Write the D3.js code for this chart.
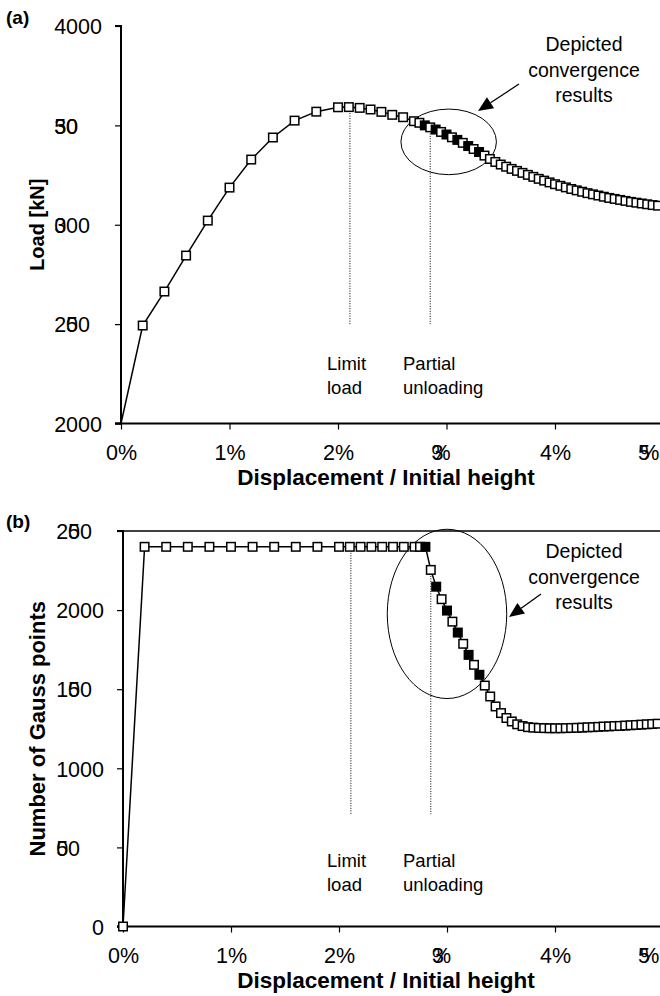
<!DOCTYPE html>
<html>
<head>
<meta charset="utf-8">
<script src="https://cdn.jsdelivr.net/npm/d3@7"></script>
<style>
  html, body { margin: 0; padding: 0; background: #fff; }
  svg { display: block; font-family: "Liberation Sans", Arial, sans-serif; }
</style>
</head>
<body>
<svg id="chart" width="660" height="996"></svg>
<script>
// ---------------- DATA ----------------
const displacement = [0, 0.2, 0.4, 0.6, 0.8, 1.0, 1.2, 1.4, 1.6, 1.8, 2.0,
  2.1, 2.2, 2.3, 2.4, 2.5, 2.6, 2.7,
  2.75, 2.8, 2.85, 2.9, 2.95, 3.0, 3.05, 3.1, 3.15, 3.2, 3.25, 3.3, 3.35, 3.4,
  3.45, 3.5, 3.55, 3.6, 3.65, 3.7, 3.75, 3.8, 3.85, 3.9, 3.95, 4.0,
  4.05, 4.1, 4.15, 4.2, 4.25, 4.3, 4.35, 4.4, 4.45, 4.5,
  4.55, 4.6, 4.65, 4.7, 4.75, 4.8, 4.85, 4.9, 4.95];

const load = [2000, 2493, 2664, 2845, 3021, 3187, 3328, 3439, 3524, 3569, 3591,
  3592, 3588, 3580, 3568, 3553, 3541, 3521,
  3513, 3500, 3490, 3479, 3467, 3454, 3440, 3427, 3412, 3396, 3381, 3366, 3348, 3331,
  3316, 3303, 3292, 3281, 3271, 3261, 3251, 3241, 3231, 3222, 3213, 3204,
  3196, 3188, 3180, 3173, 3166, 3159, 3153, 3147, 3141, 3135,
  3130, 3125, 3120, 3115, 3111, 3107, 3103, 3099, 3096];

const gaussPoints = [0, 2400, 2400, 2400, 2400, 2400, 2400, 2400, 2400, 2400, 2400,
  2400, 2400, 2400, 2400, 2400, 2400, 2400,
  2400, 2400, 2254, 2148, 2069, 1997, 1927, 1858, 1787, 1717, 1654, 1591, 1523, 1454,
  1391, 1349, 1318, 1296, 1278, 1267, 1260, 1257, 1255, 1254, 1253, 1253,
  1253, 1254, 1255, 1256, 1257, 1259, 1260, 1262, 1264, 1265,
  1267, 1268, 1270, 1272, 1274, 1276, 1278, 1280, 1282];

// convergence steps depicted (filled markers)
const depictedSteps = [2.8, 2.9, 3.0, 3.1, 3.2, 3.3];

const xTicks = [0, 1, 2, 3, 4, 5];
const xTickLabels = ["0%", "1%", "2%", "3%", "4%", "5%"];
const loadTicks = [2000, 2500, 3000, 3500, 4000];
const gaussTicks = [0, 500, 1000, 1500, 2000, 2500];

const limitLoadDisp = 2.11;
const partialUnloadDisp = 2.85;
const annotationBottomA = 2500;   // load value where dotted lines end
const annotationBottomB = 710;    // gauss value where dotted lines end

// ---------------- DRAW ----------------
const svg = d3.select("#chart");
svg.append("rect").attr("width", 660).attr("height", 996).attr("fill", "#fff");

// glyph overlap quirks visible in the reference labels (slot position per char)
const glyphSlots = {
  a: { "2500": [0,1,1,2], "3000": [0,0,1,2], "3500": [0,0,1,1] },
  b: { "2500": [0,1,1,2], "1500": [0,1,1,2], "500": [0,0,1] },
  x: { "3%": [0,0], "5%": [0,0.2] }
};

function placeGlyphs(textNode, left, slots) {
  const n = textNode.getNumberOfChars();
  const w = textNode.getSubStringLength(0, 1);
  const xs = [];
  for (let i = 0; i < n; i++) xs.push(left + slots[i] * w);
  d3.select(textNode).attr("text-anchor", "start").attr("x", xs.join(" "));
}

const FS_TICK = 21.5;

function drawPanel(opts) {
  const g = svg.append("g");
  const x = d3.scaleLinear().domain([0, 5]).range(opts.xRange);
  const y = d3.scaleLinear().domain(opts.yDomain).range(opts.yRange);
  const x0 = opts.xRange[0];
  const yb = opts.yRange[0], yt = opts.yRange[1];

  // top frame (panel b)
  if (opts.topFrame) {
    g.append("line").attr("x1", x0).attr("x2", 660).attr("y1", yt).attr("y2", yt)
      .attr("stroke", "#000").attr("stroke-width", 1.3);
  }

  // y axis
  const yAxis = d3.axisLeft(y).tickValues(opts.yTicks).tickSize(6).tickPadding(13)
    .tickFormat(d3.format("d"));
  const gy = g.append("g").attr("transform", `translate(${x0},0)`).call(yAxis);
  gy.select(".domain").attr("stroke-width", 2).attr("d", `M-6,${yb}H0V${yt}H-6`);
  gy.selectAll(".tick line").attr("stroke-width", 1.2);
  gy.selectAll(".tick text").attr("font-size", FS_TICK).attr("font-family", "Liberation Sans, Arial, sans-serif")
    .attr("fill", "#000").attr("dy", "0.36em")
    .each(function (d) {
      const t = this.textContent;
      const slots = opts.slots[t];
      if (!slots) return;
      const w = this.getSubStringLength(0, 1);
      const right = -19;
      placeGlyphs(this, right - 4 * w, slots);
    });

  // x axis
  const xAxis = d3.axisBottom(x).tickValues(xTicks).tickSize(6).tickPadding(opts.xPad)
    .tickFormat((d, i) => xTickLabels[i]);
  const gx = g.append("g").attr("transform", `translate(0,${yb})`).call(xAxis);
  gx.select(".domain").attr("stroke-width", 2).attr("d", `M${x0 - 6},0H660`);
  gx.selectAll(".tick line").attr("stroke-width", 1.2);
  gx.selectAll(".tick text").attr("font-size", FS_TICK).attr("font-family", "Liberation Sans, Arial, sans-serif")
    .attr("fill", "#000")
    .each(function (d) {
      const t = this.textContent;
      const slots = glyphSlots.x[t];
      if (!slots) return;
      const full = this.getComputedTextLength();
      const cx = Math.min(x(d), 653);
      placeGlyphs(this, cx - full / 2 - x(d), slots);
    });

  // axis titles
  g.append("text").attr("x", 386).attr("y", opts.xTitleY).attr("text-anchor", "middle")
    .attr("font-size", 22.5).attr("font-weight", "bold").text("Displacement / Initial height");
  g.append("text").attr("transform", `translate(${opts.yTitleX},${(yb + yt) / 2}) rotate(-90)`)
    .attr("text-anchor", "middle").attr("font-size", opts.yTitleSize).attr("font-weight", "bold")
    .text(opts.yTitle);

  // panel label
  g.append("text").attr("x", 6).attr("y", opts.panelLabelY).attr("font-size", 19)
    .attr("font-weight", "bold").text(opts.panelLabel);

  // data
  const pts = displacement.map((d, i) => ({ x: d, y: opts.values[i], filled: depictedSteps.includes(d) }));
  const interp = dd => {
    for (let i = 1; i < pts.length; i++) if (pts[i].x >= dd) {
      const a = pts[i - 1], b = pts[i];
      return a.y + (b.y - a.y) * (dd - a.x) / (b.x - a.x);
    }
  };

  // dotted annotation lines
  [limitLoadDisp, partialUnloadDisp].forEach(dd => {
    g.append("line").attr("x1", x(dd)).attr("x2", x(dd))
      .attr("y1", y(interp(dd)) + 6).attr("y2", y(opts.annoBottom))
      .attr("stroke", "#000").attr("stroke-width", 1).attr("stroke-dasharray", "1,1.5");
  });

  // ellipse
  const e = opts.ellipse;
  g.append("ellipse").attr("cx", x(e.cx)).attr("cy", y(e.cy))
    .attr("rx", x(e.cx + e.rx) - x(e.cx)).attr("ry", y(e.cy) - y(e.cy + e.ry))
    .attr("fill", "none").attr("stroke", "#000").attr("stroke-width", 1);

  // arrow
  const ar = opts.arrow;
  const ang = Math.atan2(ar.y2 - ar.y1, ar.x2 - ar.x1);
  const hl = 15, hw = 6.5;
  const bx = ar.x2 - hl * Math.cos(ang), by = ar.y2 - hl * Math.sin(ang);
  g.append("line").attr("x1", ar.x1).attr("y1", ar.y1).attr("x2", bx).attr("y2", by)
    .attr("stroke", "#000").attr("stroke-width", 1.3);
  g.append("path").attr("d", `M${ar.x2},${ar.y2}L${bx - hw * Math.sin(ang)},${by + hw * Math.cos(ang)}L${bx + hw * Math.sin(ang)},${by - hw * Math.cos(ang)}Z`)
    .attr("fill", "#000");

  // line
  const line = d3.line().x(d => x(d.x)).y(d => y(d.y));
  g.append("path").datum(pts).attr("d", line).attr("fill", "none")
    .attr("stroke", "#000").attr("stroke-width", 1.5);

  // markers
  const ms = 8.5;
  g.selectAll("rect.m").data(pts.filter(p => opts.markerAtOrigin || p.x > 0)).enter()
    .append("rect").attr("class", "m")
    .attr("x", d => x(d.x) - ms / 2).attr("y", d => y(d.y) - ms / 2)
    .attr("width", ms).attr("height", ms)
    .attr("fill", d => d.filled ? "#000" : "#fff").attr("stroke", "#000").attr("stroke-width", 1.5);

  // texts
  const fsA = 18.5;
  const tl = g.append("text").attr("font-size", fsA).attr("fill", "#000");
  tl.append("tspan").attr("x", 327).attr("y", opts.annoTextY).text("Limit");
  tl.append("tspan").attr("x", 327).attr("y", opts.annoTextY + 24).text("load");
  const tp = g.append("text").attr("font-size", fsA).attr("fill", "#000");
  tp.append("tspan").attr("x", 403).attr("y", opts.annoTextY).text("Partial");
  tp.append("tspan").attr("x", 403).attr("y", opts.annoTextY + 24).text("unloading");

  const td = g.append("text").attr("font-size", 19.5).attr("text-anchor", "middle").attr("fill", "#000");
  ["Depicted", "convergence", "results"].forEach((s, i) =>
    td.append("tspan").attr("x", 584).attr("y", opts.depTextY + i * 25.5).text(s));
}

drawPanel({
  xRange: [121, 663.5], yDomain: [2000, 4000], yRange: [423.5, 26],
  yTicks: loadTicks, slots: glyphSlots.a, topFrame: false, xPad: 15,
  xTitleY: 485, yTitleX: 44, yTitle: "Load [kN]", yTitleSize: 20, panelLabel: "(a)", panelLabelY: 24,
  values: load, markerAtOrigin: false, annoBottom: annotationBottomA,
  ellipse: { cx: 3.02, cy: 3417, rx: 0.44, ry: 165 },
  arrow: { x1: 519, y1: 84, x2: 478, y2: 111 },
  annoTextY: 370, depTextY: 51
});

drawPanel({
  xRange: [123, 663], yDomain: [0, 2500], yRange: [926.5, 531],
  yTicks: gaussTicks, slots: glyphSlots.b, topFrame: true, xPad: 15.5,
  xTitleY: 988, yTitleX: 45, yTitle: "Number of Gauss points", yTitleSize: 22, panelLabel: "(b)", panelLabelY: 528,
  values: gaussPoints, markerAtOrigin: true, annoBottom: annotationBottomB,
  ellipse: { cx: 3.0, cy: 1976, rx: 0.553, ry: 535 },
  arrow: { x1: 541, y1: 594, x2: 509, y2: 617 },
  annoTextY: 867, depTextY: 558
});
</script>
</body>
</html>
